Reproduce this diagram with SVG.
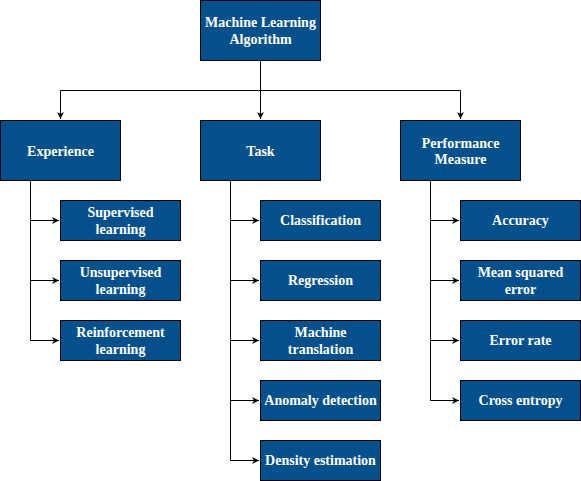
<svg xmlns="http://www.w3.org/2000/svg" width="581" height="481" viewBox="0 0 581 481">
<defs>
<marker id="arr" markerWidth="8" markerHeight="8" refX="7" refY="4" orient="auto" markerUnits="userSpaceOnUse">
<path d="M0,0.5 L7,4 L0,7.5 L2,4 Z" fill="#000"/>
</marker>
<style>
.n{fill:#03508C;stroke:#000;stroke-width:1}
.t{font-family:"Liberation Serif","Times New Roman",serif;font-size:14px;font-weight:bold;fill:#fff;text-anchor:middle}
.e{fill:none;stroke:#000;stroke-width:1;marker-end:url(#arr)}
</style>
</defs>
<rect width="581" height="481" fill="#fff"/>
<g id="edges">
<path class="e" d="M260.5,60 V90.5 H60.5 V119"/>
<path class="e" d="M260.5,60 V119"/>
<path class="e" d="M260.5,90.5 H460.5 V119"/>
<path class="e" d="M30.5,180 V220.5 H59"/>
<path class="e" d="M30.5,180 V280.5 H59"/>
<path class="e" d="M30.5,180 V340.5 H59"/>
<path class="e" d="M230.5,180 V220.5 H259"/>
<path class="e" d="M230.5,180 V280.5 H259"/>
<path class="e" d="M230.5,180 V340.5 H259"/>
<path class="e" d="M230.5,180 V400.5 H259"/>
<path class="e" d="M230.5,180 V460.5 H259"/>
<path class="e" d="M430.5,180 V220.5 H459"/>
<path class="e" d="M430.5,180 V280.5 H459"/>
<path class="e" d="M430.5,180 V340.5 H459"/>
<path class="e" d="M430.5,180 V400.5 H459"/>
</g>
<g id="root"><rect class="n" x="200.5" y="0.5" width="120" height="60"/><text class="t" x="260.5" y="27">Machine Learning</text><text class="t" x="260.5" y="44">Algorithm</text></g>
<g id="experience"><rect class="n" x="0.5" y="120.5" width="120" height="60"/><text class="t" x="60.5" y="156">Experience</text></g>
<g id="task"><rect class="n" x="200.5" y="120.5" width="120" height="60"/><text class="t" x="260.5" y="156">Task</text></g>
<g id="performance"><rect class="n" x="400.5" y="120.5" width="120" height="60"/><text class="t" x="460.5" y="148">Performance</text><text class="t" x="460.5" y="164">Measure</text></g>
<g id="supervised"><rect class="n" x="60.5" y="200.5" width="120" height="40"/><text class="t" x="120.5" y="217">Supervised</text><text class="t" x="120.5" y="234">learning</text></g>
<g id="unsupervised"><rect class="n" x="60.5" y="260.5" width="120" height="40"/><text class="t" x="120.5" y="277">Unsupervised</text><text class="t" x="120.5" y="294">learning</text></g>
<g id="reinforcement"><rect class="n" x="60.5" y="320.5" width="120" height="40"/><text class="t" x="120.5" y="337">Reinforcement</text><text class="t" x="120.5" y="354">learning</text></g>
<g id="classification"><rect class="n" x="260.5" y="200.5" width="120" height="40"/><text class="t" x="320.5" y="225">Classification</text></g>
<g id="regression"><rect class="n" x="260.5" y="260.5" width="120" height="40"/><text class="t" x="320.5" y="285">Regression</text></g>
<g id="translation"><rect class="n" x="260.5" y="320.5" width="120" height="40"/><text class="t" x="320.5" y="337">Machine</text><text class="t" x="320.5" y="354">translation</text></g>
<g id="anomaly"><rect class="n" x="260.5" y="380.5" width="120" height="40"/><text class="t" x="320.5" y="405">Anomaly detection</text></g>
<g id="density"><rect class="n" x="260.5" y="440.5" width="120" height="40"/><text class="t" x="320.5" y="465">Density estimation</text></g>
<g id="accuracy"><rect class="n" x="460.5" y="200.5" width="120" height="40"/><text class="t" x="520.5" y="225">Accuracy</text></g>
<g id="mse"><rect class="n" x="460.5" y="260.5" width="120" height="40"/><text class="t" x="520.5" y="277">Mean squared</text><text class="t" x="520.5" y="294">error</text></g>
<g id="errorrate"><rect class="n" x="460.5" y="320.5" width="120" height="40"/><text class="t" x="520.5" y="345">Error rate</text></g>
<g id="crossentropy"><rect class="n" x="460.5" y="380.5" width="120" height="40"/><text class="t" x="520.5" y="405">Cross entropy</text></g>
</svg>
